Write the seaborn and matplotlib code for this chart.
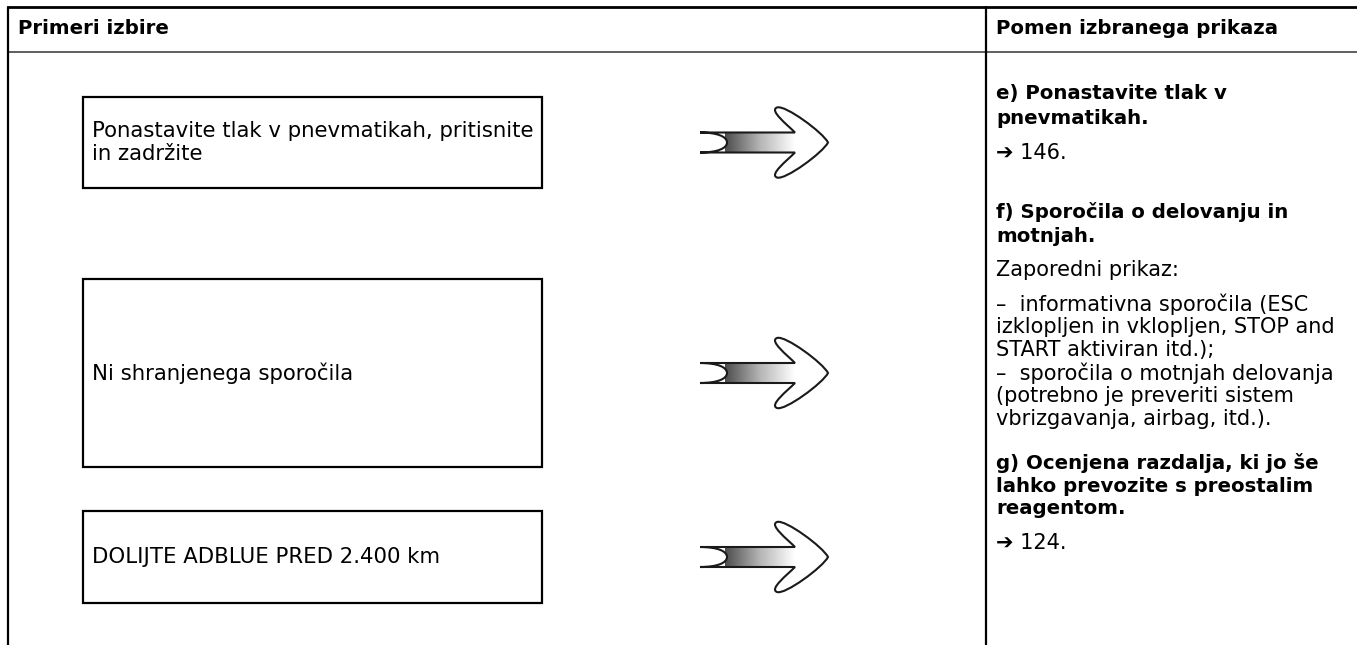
import numpy as np
import seaborn as sns
import matplotlib.pyplot as plt
from matplotlib.path import Path
from matplotlib.patches import PathPatch, Rectangle

# texts of the table
header_left = "Primeri izbire"
header_right = "Pomen izbranega prikaza"

examples = [
    "Ponastavite tlak v pnevmatikah, pritisnite\nin zadržite",
    "Ni shranjenega sporočila",
    "DOLIJTE ADBLUE PRED 2.400 km",
]

meaning_lines = [
    "e) Ponastavite tlak v", "pnevmatikah.", "\u2794 146.",
    "f) Sporočila o delovanju in", "motnjah.", "Zaporedni prikaz:",
    "–  informativna sporočila (ESC", "izklopljen in vklopljen, STOP and",
    "START aktiviran itd.);", "–  sporočila o motnjah delovanja",
    "(potrebno je preveriti sistem", "vbrizgavanja, airbag, itd.).",
    "g) Ocenjena razdalja, ki jo še", "lahko prevozite s preostalim",
    "reagentom.", "\u2794 124.",
]
meaning_bold = [1, 1, 0, 1, 1, 0, 0, 0, 0, 0, 0, 0, 1, 1, 1, 0]

# layout (pixel units)
box_top = [97, 279, 511]
box_bot = [188, 467, 603]
meaning_y = [94, 118, 153, 212, 236, 270, 304, 327, 350, 373, 396, 419, 463, 486, 509, 543]

sns.set_style("white")
plt.rcParams['font.family'] = ['DejaVu Sans']
plt.rcParams['text.color'] = 'black'

fig = plt.figure(figsize=(13.57, 6.45), dpi=100)
ax = fig.add_axes([0, 0, 1, 1])
W, H = 1357, 645

# table frame
ax.plot([8, W], [7, 7], color="black", lw=2.0, solid_capstyle="butt")
ax.plot([8, W], [52, 52], color="#333333", lw=1.1)
ax.plot([8, 8], [7, H], color="black", lw=1.6)
ax.plot([986, 986], [7, H], color="black", lw=1.6)

ax.text(18, 29, header_left, fontsize=14.2, fontweight="bold", va="center")
ax.text(996, 29, header_right, fontsize=14.2, fontweight="bold", va="center")

grad = sns.blend_palette(["#4d4d4d", "#b5b5b5", "#ffffff"], as_cmap=True)


def draw_arrow(cx, cy):
    pts = [(-65, -10), (30, -10),
           (22, -18), (4, -32), (12, -35),
           (20, -38), (58, -10), (63, 0),
           (58, 10), (20, 38), (12, 35),
           (4, 32), (22, 18), (30, 10),
           (-65, 10),
           (-48, 10), (-38, 6), (-38, 0),
           (-38, -6), (-48, -10), (-65, -10)]
    codes = ([Path.MOVETO, Path.LINETO] + [Path.CURVE4] * 12 + [Path.LINETO]
             + [Path.CURVE4] * 6)
    verts = [(cx + dx, cy + dy) for dx, dy in pts]
    path = Path(verts, codes)
    ax.add_patch(PathPatch(path, facecolor="white", edgecolor="none", zorder=1))
    img = ax.imshow(np.linspace(0, 1, 200).reshape(1, -1), cmap=grad,
                    extent=(cx - 40, cx + 30, cy + 10, cy - 10),
                    aspect="auto", interpolation="bilinear", zorder=2)
    clip = PathPatch(path, facecolor="none", edgecolor="none", transform=ax.transData)
    ax.add_patch(clip)
    img.set_clip_path(clip)
    ax.add_patch(PathPatch(path, facecolor="none", edgecolor="#1a1a1a", lw=1.5, zorder=3))


for txt, t, b in zip(examples, box_top, box_bot):
    ax.add_patch(Rectangle((83, t), 459, b - t, fill=False, edgecolor="black", lw=1.6))
    ax.text(92, (t + b) / 2, txt, fontsize=15.3, va="center", linespacing=1.22)
    draw_arrow(765, (t + b) / 2)

for line, y, bold in zip(meaning_lines, meaning_y, meaning_bold):
    ax.text(996, y, line, fontsize=14.2 if bold else 15, va="center",
            fontweight="bold" if bold else "normal")

ax.set_xlim(0, W)
ax.set_ylim(H, 0)
ax.axis("off")
fig.savefig("out.png", dpi=100)
